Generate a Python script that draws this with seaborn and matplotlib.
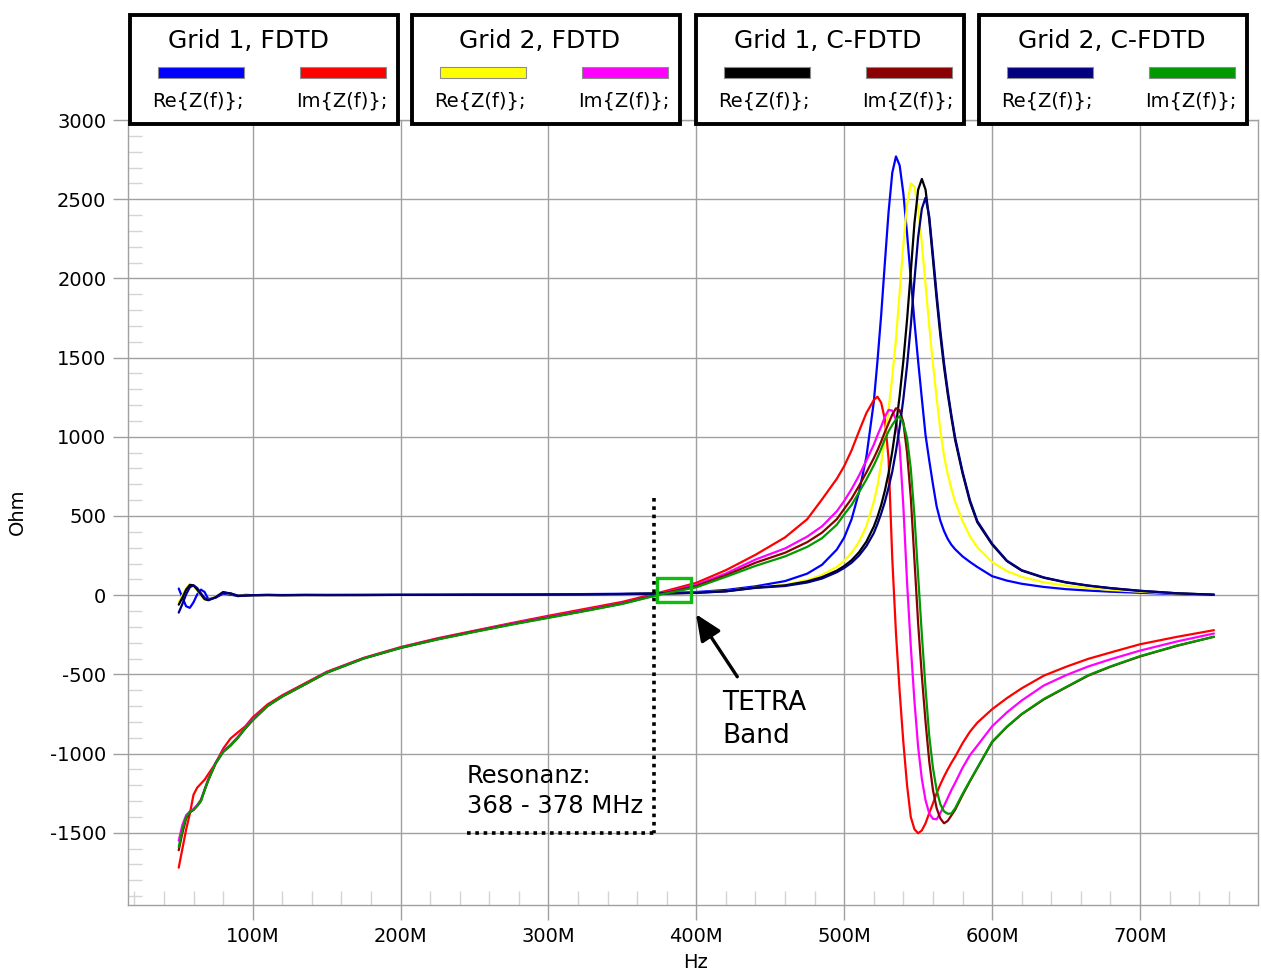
import matplotlib
matplotlib.use("Agg")
import matplotlib.pyplot as plt
from matplotlib.patches import Rectangle
from matplotlib.ticker import MultipleLocator, FuncFormatter
import pandas as pd
import seaborn as sns

# ---------------------------------------------------------------------------
# Input impedance of the antenna model, two grids, FDTD vs. conformal FDTD
# ---------------------------------------------------------------------------
freq_mhz = [50, 52.5, 55, 57.5, 60, 62.5, 65, 67.5, 70, 75, 80, 85, 90, 95, 100,
            110, 120, 135, 150, 175, 200, 225, 250, 275, 300, 325, 350, 375,
            400, 420, 440, 460, 475, 485, 495, 500, 505, 510, 515, 520,
            522.5, 525, 527.5, 530, 532.5, 535, 537.5, 540, 542.5, 545, 547.5,
            550, 552.5, 555, 557.5, 560, 562.5, 565, 567.5, 570, 572.5, 575,
            580, 585, 590, 600, 610, 620, 635, 650, 665, 680, 700, 725, 750]

re_g1_fdtd = [42, -15, -70, -80, -45, 5, 35, 20, -25, -15, 10, 3, -4, 2, 0,
              2, 1, 2, 1, 2, 2, 3, 3, 4, 5, 7, 9, 13,
              20, 33, 56, 89, 136, 192, 288, 364, 480, 650, 873, 1220,
              1480, 1770, 2100, 2420, 2667, 2770, 2713, 2536, 2283, 2000, 1725,
              1476, 1240, 1010, 850, 700, 560, 470, 405, 355, 318, 290,
              245, 210, 178, 120, 92, 72, 52, 38, 29, 22, 15, 7, 2]
im_g1_fdtd = [-1720, -1600, -1480, -1380, -1260, -1215, -1190, -1165, -1130, -1060, -970, -905, -866, -828, -772,
              -690, -632, -558, -484, -396, -328, -272, -224, -176, -130, -86, -42, 16,
              78, 158, 255, 365, 480, 605, 735, 815, 915, 1035, 1150, 1232,
              1253, 1215, 1110, 860, 230, -240, -610, -930, -1200, -1400, -1478,
              -1503, -1485, -1440, -1375, -1315, -1250, -1195, -1145, -1100, -1058, -1020,
              -935, -862, -805, -720, -650, -588, -508, -452, -402, -362, -310, -263, -221]
re_g2_fdtd = [-45, 0, 42, 70, 60, 30, 0, -26, -30, -10, 16, 9, -4, 0, 0,
              1, 0, 1, 1, 1, 2, 2, 3, 3, 4, 5, 7, 10,
              16, 26, 48, 66, 96, 128, 179, 217, 268, 337, 436, 590,
              690, 830, 1000, 1170, 1380, 1618, 1915, 2216, 2467, 2600, 2579,
              2440, 2219, 1960, 1699, 1459, 1248, 1040, 880, 765, 670, 590,
              468, 372, 302, 209, 152, 116, 81, 60, 45, 33, 22, 10, 2]
im_g2_fdtd = [-1550, -1450, -1390, -1365, -1350, -1325, -1290, -1225, -1160, -1055, -985, -945, -895, -835, -785,
              -698, -638, -563, -487, -398, -331, -276, -228, -180, -137, -94, -50, 8,
              66, 137, 225, 295, 370, 435, 530, 595, 670, 755, 850, 950,
              1010, 1065, 1125, 1170, 1165, 1108, 940, 560, 80, -320, -670,
              -960, -1160, -1295, -1378, -1412, -1415, -1375, -1330, -1280, -1230, -1185,
              -1090, -1010, -950, -828, -740, -665, -570, -505, -450, -405, -350, -292, -242]
re_g1_cfdtd = [-60, -15, 35, 65, 62, 35, 5, -25, -32, -12, 20, 10, -6, -2, 0,
               1, 0, 1, 1, 1, 2, 2, 3, 3, 4, 5, 7, 10,
               15, 25, 48, 62, 87, 114, 155, 184, 221, 271, 338, 433,
               495, 569, 660, 771, 907, 1070, 1260, 1480, 1740, 2040, 2350,
               2560, 2628, 2560, 2370, 2120, 1870, 1640, 1440, 1270, 1120, 980,
               770, 590, 460, 320, 215, 155, 110, 80, 60, 44, 27, 12, 3]
im_g1_cfdtd = [-1610, -1500, -1410, -1372, -1356, -1330, -1300, -1232, -1168, -1062, -990, -950, -900, -842, -790,
               -700, -640, -565, -490, -400, -333, -278, -230, -184, -141, -98, -53, 6,
               58, 126, 205, 268, 335, 395, 480, 545, 610, 690, 775, 865,
               915, 970, 1030, 1085, 1140, 1180, 1168, 1090, 900, 620, 220,
               -180, -510, -800, -1050, -1230, -1345, -1410, -1440, -1425, -1390, -1355,
               -1262, -1175, -1092, -928, -832, -752, -658, -582, -508, -452, -387, -320, -262]
re_g2_cfdtd = [-110, -55, 5, 50, 62, 45, 12, -18, -30, -15, 15, 12, -3, -3, 0,
               1, 0, 1, 1, 1, 2, 2, 3, 3, 4, 5, 7, 10,
               15, 24, 46, 58, 80, 105, 145, 172, 205, 250, 310, 392,
               450, 515, 590, 680, 780, 910, 1060, 1240, 1450, 1700, 1990,
               2260, 2440, 2510, 2390, 2150, 1900, 1670, 1465, 1290, 1135, 995,
               780, 600, 468, 325, 218, 158, 112, 82, 61, 45, 28, 12, 3]
im_g2_cfdtd = [-1590, -1480, -1400, -1370, -1355, -1330, -1300, -1230, -1167, -1060, -990, -950, -900, -840, -789,
               -700, -640, -565, -490, -400, -333, -280, -232, -186, -143, -100, -55, 3,
               50, 116, 185, 245, 305, 360, 445, 510, 570, 650, 730, 820,
               870, 925, 985, 1035, 1075, 1110, 1130, 1085, 990, 800, 500,
               120, -250, -590, -890, -1090, -1230, -1320, -1365, -1380, -1378, -1345,
               -1255, -1172, -1090, -925, -830, -750, -655, -580, -505, -450, -385, -318, -263]

group_titles = ["Grid 1, FDTD", "Grid 2, FDTD", "Grid 1, C-FDTD", "Grid 2, C-FDTD"]
part_labels = ["Re{Z(f)};", "Im{Z(f)};"]
x_ticks_mhz = [100, 200, 300, 400, 500, 600, 700]
y_ticks = [-1500, -1000, -500, 0, 500, 1000, 1500, 2000, 2500, 3000]

# annotation anchors (MHz / Ohm)
resonance_mhz = 371.5
resonance_guide = (245.0, -1500, 612)      # left end, bottom, top
resonance_text = "Resonanz:\n368 - 378 MHz"
tetra_box_mhz = (373.5, 396.5)
tetra_box_ohm = (-40, 110)
tetra_arrow = ((427.7, -515), (399.8, -120))
tetra_text = "TETRA\nBand"

# series in drawing order, paired (Re, Im) per simulation run
series = [
    ("Grid 1, FDTD Re", re_g1_fdtd, "#0000ff"),
    ("Grid 1, FDTD Im", im_g1_fdtd, "#ff0000"),
    ("Grid 2, FDTD Re", re_g2_fdtd, "#ffff00"),
    ("Grid 2, FDTD Im", im_g2_fdtd, "#ff00ff"),
    ("Grid 1, C-FDTD Re", re_g1_cfdtd, "#000000"),
    ("Grid 1, C-FDTD Im", im_g1_cfdtd, "#8b0000"),
    ("Grid 2, C-FDTD Re", re_g2_cfdtd, "#000080"),
    ("Grid 2, C-FDTD Im", im_g2_cfdtd, "#009a00"),
]

rows = []
for name, values, _ in series:
    for f, v in zip(freq_mhz, values):
        rows.append({"freq_hz": f * 1e6, "ohm": v, "series": name})
df = pd.DataFrame(rows)
palette = {name: color for name, _, color in series}
order = [name for name, _, _ in series]

# ---------------------------------------------------------------------------
sns.set_theme(style="white")
plt.rcParams["font.family"] = ["DejaVu Sans"]
plt.rcParams["axes.unicode_minus"] = False
plt.rcParams["text.color"] = "black"
plt.rcParams["axes.labelcolor"] = "black"

W, H = 1261, 972
fig = plt.figure(figsize=(W / 100, H / 100), dpi=100, facecolor="white")


def fxy(px, py):
    """pixel position (from top-left) -> figure fraction"""
    return px / W, 1 - py / H


ax_l, ax_r, ax_t, ax_b = 128, 1258, 120, 905
ax = fig.add_axes([ax_l / W, 1 - ax_b / H, (ax_r - ax_l) / W, (ax_b - ax_t) / H])
ax.set_facecolor("white")

sns.lineplot(data=df, x="freq_hz", y="ohm", hue="series", hue_order=order,
             palette=palette, estimator=None, sort=False, legend=False,
             linewidth=1.6, ax=ax)
for ln in ax.get_lines():
    ln.set_solid_joinstyle("round")

ax.set_xlim(15.7e6, 779.8e6)
ax.set_ylim(-1956, 3000)

grid_gray = "#a0a0a0"
ax.set_xticks([m * 1e6 for m in x_ticks_mhz])
ax.set_yticks(y_ticks)
ax.xaxis.set_major_formatter(FuncFormatter(lambda v, _: f"{int(round(v / 1e6))}M"))
ax.yaxis.set_major_formatter(FuncFormatter(lambda v, _: f"{int(round(v))}"))
ax.xaxis.set_minor_locator(MultipleLocator(20e6))
ax.yaxis.set_minor_locator(MultipleLocator(100))
ax.tick_params(which="both", bottom=True, left=True, top=False, right=False)
ax.tick_params(which="major", direction="out", length=10.5, width=1.0,
               color=grid_gray, labelsize=14, labelcolor="black", pad=5)
ax.tick_params(which="minor", direction="in", length=10, width=1.0,
               color="#d4d4d4")
ax.grid(True, which="major", color=grid_gray, linewidth=1.0)
ax.set_axisbelow(True)
for sp in ax.spines.values():
    sp.set_color(grid_gray)
    sp.set_linewidth(1.0)

ax.set_xlabel("Hz", fontsize=14, va="center", color="black")
ax.set_ylabel("Ohm", fontsize=14, va="center", color="black")
ax.xaxis.set_label_coords(*fxy(696, 962), transform=fig.transFigure)
ax.yaxis.set_label_coords(*fxy(17, 512), transform=fig.transFigure)

# resonance guide (dotted) and label
dot = (0, (1, 1.3))
x_res = resonance_mhz * 1e6
left_mhz, bottom_ohm, top_ohm = resonance_guide
ax.plot([x_res, x_res], [top_ohm, bottom_ohm], color="black", lw=2.6,
        linestyle=dot, dash_capstyle="butt", zorder=6)
ax.plot([left_mhz * 1e6, x_res], [bottom_ohm, bottom_ohm], color="black",
        lw=2.6, linestyle=dot, dash_capstyle="butt", zorder=6)
ax.text(left_mhz * 1e6, -1066, resonance_text, fontsize=17.5, ha="left",
        va="top", linespacing=1.33, color="black", zorder=7)

# TETRA band marker
f0, f1 = tetra_box_mhz
z0, z1 = tetra_box_ohm
ax.add_patch(Rectangle((f0 * 1e6, z0), (f1 - f0) * 1e6, z1 - z0, fill=False,
                       edgecolor="#11bb11", lw=2.4, zorder=7))
(tx, ty), (hx, hy) = tetra_arrow
ax.annotate("", xy=(hx * 1e6, hy), xytext=(tx * 1e6, ty),
            arrowprops=dict(arrowstyle="-|>,head_length=0.8,head_width=0.35",
                            color="black", lw=2.4, shrinkA=0, shrinkB=0,
                            mutation_scale=20), zorder=7)
ax.text(417.4e6, -597, tetra_text, fontsize=19, ha="left", va="top",
        linespacing=1.34, color="black", zorder=7)

# legend boxes across the top
box_lefts = [130, 412, 696, 979]
box_w, box_top, box_bot = 268, 15, 124
title_dx = [118, 128, 132, 133]
swatch_dx = [28, 170]
label_dx = [68, 212]
for i, title in enumerate(group_titles):
    left = box_lefts[i]
    fig.add_artist(Rectangle(fxy(left, box_bot), box_w / W, (box_bot - box_top) / H,
                             transform=fig.transFigure, facecolor="white",
                             edgecolor="black", lw=2.8, zorder=10))
    fig.text(*fxy(left + title_dx[i], 48), title, fontsize=18, ha="center",
             va="baseline", color="black", zorder=12)
    for j, lab in enumerate(part_labels):
        color = series[2 * i + j][2]
        sx = left + swatch_dx[j]
        fig.add_artist(Rectangle(fxy(sx, 78.5), 86 / W, 11.5 / H,
                                 transform=fig.transFigure, facecolor=color,
                                 edgecolor="#8c8c8c", lw=0.8, zorder=11))
        fig.text(*fxy(left + label_dx[j], 107), lab, fontsize=14,
                 ha="center", va="baseline", color="black", zorder=12)

fig.savefig("out.png", dpi=100, facecolor="white")
